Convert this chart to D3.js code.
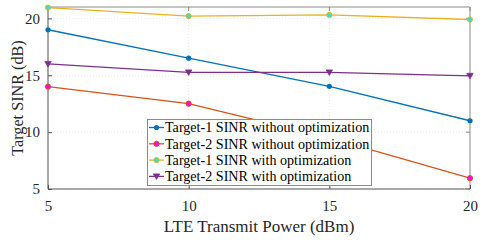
<!DOCTYPE html>
<html><head><meta charset="utf-8">
<script src="https://cdn.jsdelivr.net/npm/d3@7"></script>
<style>body{margin:0;background:#fff}svg{display:block}text{font-family:'Liberation Serif','Times New Roman',serif !important}</style>
</head><body><svg id="c" width="491" height="245"></svg>
<script>
const xValues = [5, 10, 15, 20];
const t1Without = [19, 16.5, 14.03, 11.0];
const t2Without = [14, 12.5, 9.5, 5.95];
const t1With = [20.95, 20.2, 20.3, 19.9];
const t2With = [16.0, 15.25, 15.25, 14.95];
const xTicks = [5, 10, 15, 20];
const yTicks = [5, 10, 15, 20];
const seriesNames = ["Target-1 SINR without optimization","Target-2 SINR without optimization","Target-1 SINR with optimization","Target-2 SINR with optimization"];

const series = [
  {name: seriesNames[0], vals: t1Without, color: "#0072BD", face: "#0072BD", marker: "dot"},
  {name: seriesNames[1], vals: t2Without, color: "#D95319", face: "#FF00FF", marker: "circle"},
  {name: seriesNames[2], vals: t1With, color: "#EDB120", face: "#33E0D0", marker: "circle"},
  {name: seriesNames[3], vals: t2With, color: "#7E2F8E", face: "#7E2F8E", marker: "tri"}
];

const L = 48, R = 470, T = 7, B = 189;
const x = d3.scaleLinear().domain([5, 20]).range([L, R]);
const y = d3.scaleLinear().domain([5, 21]).range([B, T]);
const svg = d3.select("#c");
const font = "'Liberation Serif','Times New Roman',serif";

// grid
const g = svg.append("g");
g.selectAll(".gy").data(yTicks).join("line")
  .attr("x1", L).attr("x2", R).attr("y1", d => y(d)).attr("y2", d => y(d))
  .attr("stroke", "#e2e2e2").attr("stroke-width", 0.8).attr("stroke-dasharray", "1,2");
g.selectAll(".gx").data(xTicks).join("line")
  .attr("y1", T).attr("y2", B).attr("x1", d => x(d)).attr("x2", d => x(d))
  .attr("stroke", "#e2e2e2").attr("stroke-width", 0.8).attr("stroke-dasharray", "1,2");

// frame
svg.append("line").attr("x1", L).attr("x2", R).attr("y1", T).attr("y2", T).attr("stroke", "#b0b0b0").attr("stroke-width", 1.5);
svg.append("line").attr("x1", R).attr("x2", R).attr("y1", T).attr("y2", B).attr("stroke", "#b0b0b0").attr("stroke-width", 1.5);

// axes
const ax = svg.append("g").attr("transform", `translate(0,${B})`)
  .call(d3.axisBottom(x).tickValues(xTicks).tickSize(-4).tickPadding(11).tickFormat(d3.format("d")));
const ay = svg.append("g").attr("transform", `translate(${L},0)`)
  .call(d3.axisLeft(y).tickValues(yTicks).tickSize(-4).tickPadding(8).tickFormat(d3.format("d")));
[ax, ay].forEach(a => {
  a.attr("font-family", font);
  a.select(".domain").attr("stroke", "#555").attr("stroke-width", 1);
  a.selectAll(".tick line").attr("stroke", "#555");
  a.selectAll("text").attr("font-family", font).attr("font-size", 15).attr("fill", "#262626");
});
ay.select(".domain").attr("d", `M0,${T}V${B}`);
ax.select(".domain").attr("d", `M${L},0H${R}`);
// top/right ticks
svg.append("g").selectAll("line").data(xTicks).join("line")
  .attr("x1", d => x(d)).attr("x2", d => x(d)).attr("y1", T).attr("y2", T + 4).attr("stroke", "#888");
svg.append("g").selectAll("line").data(yTicks).join("line")
  .attr("x1", R - 4).attr("x2", R).attr("y1", d => y(d)).attr("y2", d => y(d)).attr("stroke", "#888");

// labels
svg.append("text").attr("x", (L + R) / 2).attr("y", 232).attr("text-anchor", "middle")
  .attr("font-family", font).attr("font-size", 17).attr("fill", "#262626").text("LTE Transmit Power (dBm)");
svg.append("text").attr("transform", `translate(23,${(T + B) / 2}) rotate(-90)`).attr("text-anchor", "middle")
  .attr("font-family", font).attr("font-size", 16.2).attr("fill", "#262626").text("Target SINR (dB)");

// lines
const line = d3.line().x((d, i) => x(xValues[i])).y(d => y(d));
function drawMarker(sel, s, cx, cy) {
  if (s.marker === "tri") {
    sel.append("path").attr("d", `M${cx-3.2},${cy-2.5}L${cx+3.2},${cy-2.5}L${cx},${cy+3}Z`)
      .attr("fill", s.face).attr("stroke", s.color).attr("stroke-width", 0.8);
  } else if (s.marker === "dot") {
    sel.append("circle").attr("cx", cx).attr("cy", cy).attr("r", 2.6).attr("fill", s.face);
  } else {
    sel.append("circle").attr("cx", cx).attr("cy", cy).attr("r", 2.6).attr("fill", s.face)
      .attr("stroke", s.color).attr("stroke-width", 1);
  }
}
const pl = svg.append("g");
series.forEach(s => {
  pl.append("path").attr("d", line(s.vals)).attr("fill", "none").attr("stroke", s.color).attr("stroke-width", 1.3);
  s.vals.forEach((v, i) => drawMarker(pl, s, x(xValues[i]), y(v)));
});

// legend
const lg = svg.append("g");
lg.append("rect").attr("x", 147.5).attr("y", 119.5).attr("width", 224).attr("height", 66)
  .attr("fill", "#fff").attr("stroke", "#8a8a8a").attr("stroke-width", 1);
series.forEach((s, i) => {
  const yy = 127.5 + i * 16.3;
  lg.append("line").attr("x1", 149).attr("x2", 164).attr("y1", yy).attr("y2", yy).attr("stroke", s.color).attr("stroke-width", 1.3);
  drawMarker(lg, s, 156.5, yy);
  lg.append("text").attr("x", 165).attr("y", yy + 4.8).attr("font-family", font).attr("font-size", 14.1)
    .attr("fill", "#000").text(s.name);
});
</script></body></html>
